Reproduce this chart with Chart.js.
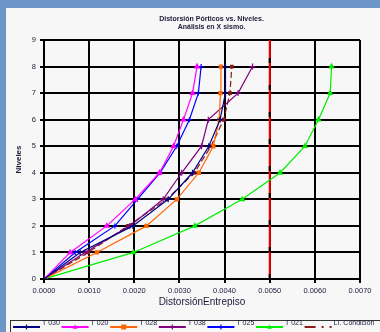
<!DOCTYPE html>
<html>
<head>
<meta charset="utf-8">
<script src="https://cdn.jsdelivr.net/npm/chart.js@4.4.0/dist/chart.umd.min.js"></script>
<style>
  html, body { margin: 0; padding: 0; width: 380px; height: 332px; overflow: hidden; background: #6c96c8; }
  #wrap { position: absolute; left: 6px; top: 8px; width: 374px; height: 324px; background: #f7f7f7; }
</style>
</head>
<body>
<div id="wrap"><canvas id="grafico" width="374" height="324"></canvas></div>
<script>
// Datos (nivel -> distorsión de entrepiso)
const niveles = [0, 1, 2, 3, 4, 5, 6, 7, 8];
const serieNavy = [0, 0.00080, 0.00197, 0.00275, 0.00329, 0.00365, 0.00390, 0.00402, 0.00402];
const serieMagenta = [0, 0.00058, 0.00139, 0.00202, 0.00256, 0.00287, 0.00309, 0.00329, 0.00339];
const serieNaranja = [0, 0.00117, 0.00227, 0.00294, 0.00343, 0.00375, 0.00388, 0.00391, 0.00392];
const seriePurpura = [0, 0.00091, 0.00190, 0.00264, 0.00305, 0.00349, 0.00364, 0.00430, 0.00462];
const serieAzul = [0, 0.00069, 0.00157, 0.00207, 0.00257, 0.00294, 0.00322, 0.00342, 0.00348];
const serieVerde = [0, 0.00198, 0.00334, 0.00439, 0.00523, 0.00578, 0.00608, 0.00634, 0.00637];
const serieCondicion = [0, 0.00098, 0.00186, 0.00272, 0.00333, 0.00370, 0.00398, 0.00412, 0.00416];
const etiquetas = ["T 030", "T 020", "T 028", "T 038", "T 025", "T 021", "Lí. Condición"];
const limiteNorma = 0.005;
const ticksX = [0, 0.001, 0.002, 0.003, 0.004, 0.005, 0.006, 0.007];
const tituloLineas = ["Distorsión Pórticos vs. Niveles.", "Análisis en X sismo."];

const puntos = (serie) => serie.map((v, i) => ({ x: v, y: niveles[i] }));

function serie(label, data, color, estilo, radio, dash) {
  return {
    label: label,
    data: puntos(data),
    borderColor: color,
    backgroundColor: color,
    borderWidth: 1.2,
    pointStyle: estilo,
    pointRadius: radio,
    pointBorderWidth: 1.2,
    borderDash: dash || [],
    showLine: true,
    tension: 0,
  };
}

// Chart.js pinta primero el último dataset: el trazo negro va antes que el rojo
const datasets = [
  serie(etiquetas[0], serieNavy, "#000080", "cross", 3),
  serie(etiquetas[1], serieMagenta, "#ff00ff", "triangle", 2.5),
  serie(etiquetas[2], serieNaranja, "#ff6600", "rect", 2.2),
  serie(etiquetas[3], seriePurpura, "#800080", "cross", 3),
  serie(etiquetas[4], serieAzul, "#0000ff", "cross", 2.5),
  serie(etiquetas[5], serieVerde, "#00ee00", "triangle", 2.5),
  serie(etiquetas[6], serieCondicion, "#8b1a1a", "rect", 1.8, [6, 3]),
  {
    label: "",
    data: [{ x: limiteNorma, y: 0 }, { x: limiteNorma, y: 9 }],
    borderColor: "#000000",
    borderWidth: 2,
    borderDash: [5, 22],
    pointRadius: 0,
    showLine: true,
  },
  {
    label: "",
    data: [{ x: limiteNorma, y: 0 }, { x: limiteNorma, y: 9 }],
    borderColor: "#ff0000",
    borderWidth: 2,
    pointRadius: 0,
    showLine: true,
  },
];

// Marcador simple para la leyenda
function marcador(ctx, estilo, x, y, r) {
  ctx.beginPath();
  if (estilo === "cross") {
    ctx.moveTo(x - r, y); ctx.lineTo(x + r, y);
    ctx.moveTo(x, y - r); ctx.lineTo(x, y + r);
    ctx.stroke();
  } else if (estilo === "triangle") {
    ctx.moveTo(x, y - r); ctx.lineTo(x + r, y + r * 0.7); ctx.lineTo(x - r, y + r * 0.7);
    ctx.closePath(); ctx.fill();
  } else {
    ctx.fillRect(x - r, y - r, 2 * r, 2 * r);
  }
}

const textosPlugin = {
  id: "textos",
  afterDraw(chart) {
    const ctx = chart.ctx;
    const area = chart.chartArea;
    ctx.save();
    ctx.fillStyle = "#1a1a3a";
    ctx.textAlign = "center";
    ctx.textBaseline = "middle";
    ctx.font = "bold 7px 'Liberation Sans', Arial";
    ctx.fillText(tituloLineas[0], 205.5, 11);
    ctx.fillText(tituloLineas[1], 205.5, 19.5);

    ctx.font = "10px 'Liberation Sans', Arial";
    ctx.fillText("DistorsiónEntrepiso", (area.left + area.right) / 2, 294);

    ctx.save();
    ctx.translate(13, (area.top + area.bottom) / 2);
    ctx.rotate(-Math.PI / 2);
    ctx.font = "bold 8px 'Liberation Sans', Arial";
    ctx.fillText("Niveles", 0, 0);
    ctx.restore();

    // Leyenda inferior (cortada por el borde)
    ctx.strokeStyle = "#333";
    ctx.lineWidth = 1;
    ctx.strokeRect(4.5, 312.5, 400, 30);
    ctx.textAlign = "left";
    ctx.font = "7px 'Liberation Sans', Arial";
    chart.data.datasets.forEach((ds, i) => {
      if (!ds.label) return;
      const x0 = 7 + i * 48.6;
      const y0 = 319;
      ctx.strokeStyle = ds.borderColor;
      ctx.fillStyle = ds.borderColor;
      ctx.lineWidth = 2;
      ctx.setLineDash(ds.borderDash.length ? [11, 6, 2, 6] : []);
      ctx.beginPath();
      ctx.moveTo(x0, y0);
      ctx.lineTo(x0 + 27, y0);
      ctx.stroke();
      ctx.setLineDash([]);
      ctx.lineWidth = 1.2;
      if (!ds.borderDash.length) marcador(ctx, ds.pointStyle, x0 + 13.5, y0, 2.5);
      ctx.fillStyle = "#1a1a3a";
      ctx.fillText(ds.label, x0 + 29, 315);
    });
    ctx.restore();
  },
};

new Chart(document.getElementById("grafico").getContext("2d"), {
  type: "scatter",
  data: { datasets: datasets },
  options: {
    responsive: false,
    devicePixelRatio: 1,
    animation: false,
    layout: { padding: { left: 0, top: 32, right: 20, bottom: 13 } },
    plugins: {
      legend: { display: false },
      title: { display: false },
      tooltip: { enabled: false },
    },
    scales: {
      x: {
        type: "linear",
        min: 0,
        max: 0.007,
        afterBuildTicks: (s) => { s.ticks = ticksX.map((v) => ({ value: v })); },
        afterFit: (s) => { s.height = 40; },
        grid: { color: "#000", lineWidth: 2, tickLength: 4, tickColor: "#000" },
        border: { color: "#000", width: 2 },
        ticks: {
          padding: 3,
          color: "#1a1a3a",
          font: { size: 7.5, family: "'Liberation Sans', Arial" },
          maxRotation: 0,
          callback: (v) => Number(v).toFixed(4),
        },
      },
      y: {
        type: "linear",
        min: 0,
        max: 9,
        afterFit: (s) => { s.width = 38; },
        grid: { color: "#000", lineWidth: 2, tickLength: 4, tickColor: "#000" },
        border: { color: "#000", width: 2 },
        ticks: {
          stepSize: 1,
          padding: 4,
          color: "#1a1a3a",
          font: { size: 7.5, family: "'Liberation Sans', Arial" },
        },
      },
    },
  },
  plugins: [textosPlugin],
});
</script>
</body>
</html>
